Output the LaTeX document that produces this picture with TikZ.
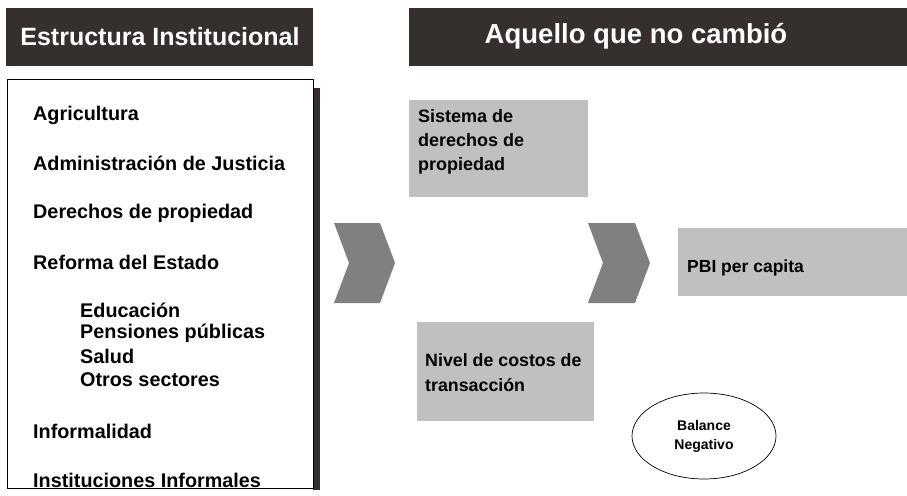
\documentclass[tikz,border=0pt]{standalone}
\usepackage{fontspec}
\setmainfont{Liberation Sans}
\usetikzlibrary{shapes.geometric}
\definecolor{hdr}{HTML}{35302D}
\definecolor{chev}{HTML}{808080}
\definecolor{boxg}{HTML}{C0C0C0}
\tikzset{
  hdrbox/.style={fill=hdr, draw=none},
  item/.style={anchor=west, inner sep=0pt, font=\fontsize{19.8}{22}\selectfont\bfseries},
  graybox/.style={fill=boxg, draw=none},
  chevshape/.style={fill=chev, draw=none},
  boxtext/.style={anchor=base west, inner sep=0pt, align=left}
}
\begin{document}
\begin{tikzpicture}[x=1pt,y=-1pt]
\useasboundingbox (0,0) rectangle (907,495);
\fill[white] (0,0) rectangle (907,495);
% left header
\fill[hdrbox] (6,8) rectangle (313,66);
\node[text=white, anchor=base, inner sep=0pt, font=\fontsize{25}{27}\selectfont\bfseries] (lh) at (160,46) {Estructura Institucional};
% left box with shadow
\fill[hdr] (313,88) rectangle (320,490);
\draw[black, line width=0.8pt, fill=white] (7,79) rectangle (313,488);
\node[item] (i1) at (33,115) {Agricultura};
\node[item] (i2) at (33,163) {Administración de Justicia};
\node[item] (i3) at (33,213) {Derechos de propiedad};
\node[item] (i4) at (33,262) {Reforma del Estado};
\node[item] (s1) at (80,310) {Educación};
\node[item] (s2) at (80,333) {Pensiones públicas};
\node[item] (s3) at (80,356) {Salud};
\node[item] (s4) at (80,380) {Otros sectores};
\node[item] (i5) at (33,431) {Informalidad};
\node[item] (i6) at (33,480) {Instituciones Informales};
% right header
\fill[hdrbox] (409,8) rectangle (907,66);
\node[text=white, anchor=base, inner sep=0pt, font=\fontsize{27.5}{30}\selectfont\bfseries] (rh) at (636,44) {Aquello que no cambió};
% gray boxes
\fill[graybox] (409,100) rectangle (588,197);
\node[boxtext, font=\fontsize{18}{24}\selectfont\bfseries] (sis) at (418,170) {Sistema de\\derechos de\\propiedad};
\fill[graybox] (417,322) rectangle (594,421);
\node[boxtext, font=\fontsize{17.8}{25}\selectfont\bfseries] (niv) at (425,391) {Nivel de costos de\\transacción};
\fill[graybox] (678,228) rectangle (907,296);
\node[boxtext, font=\fontsize{17.5}{20}\selectfont\bfseries] (pbi) at (687,272) {PBI per capita};
% chevrons
\fill[chevshape] (334,223) -- (380,223) -- (395,263) -- (380,303) -- (334,303) -- (349,263) -- cycle;
\fill[chevshape] (588,223) -- (635,223) -- (650,263) -- (635,303) -- (588,303) -- (603,263) -- cycle;
% ellipse
\node[draw=black, line width=0.7pt, ellipse, minimum width=144pt, minimum height=86pt, align=center, inner sep=0pt, font=\fontsize{14}{19}\selectfont\bfseries] (bal) at (704,436) {Balance\\Negativo};
\end{tikzpicture}
\end{document}
